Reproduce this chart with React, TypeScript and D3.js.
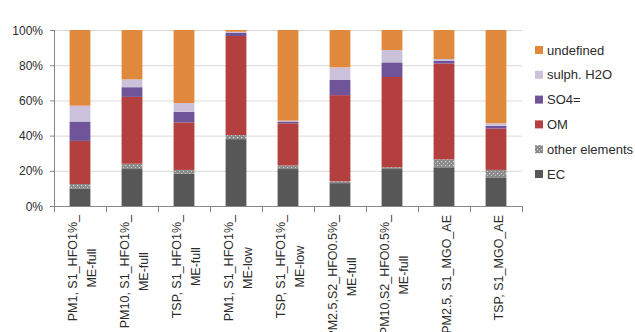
import React, { useEffect, useRef } from "react";
import * as d3 from "d3";

const categories: string[][] = [
  ["PM1, S1_HFO1%_", "ME-full"],
  ["PM10, S1_HFO1%_", "ME-full"],
  ["TSP, S1_HFO1%_", "ME-full"],
  ["PM1, S1_HFO1%_", "ME-low"],
  ["TSP, S1_HFO1%_", "ME-low"],
  ["PM2.5,S2_HFO0.5%_", "ME-full"],
  ["PM10,S2_HFO0.5%_", "ME-full"],
  ["PM2.5, S1_MGO_AE"],
  ["TSP, S1_MGO_AE"],
];

const seriesNames = ["EC", "other elements", "OM", "SO4=", "sulph. H2O", "undefined"];
const EC = [10, 21, 18.5, 38, 21, 13, 21, 22, 16.3];
const otherElements = [2.5, 3, 2, 2.3, 2, 1, 1, 4.5, 4.2];
const OM = [24.5, 38, 27, 56.3, 24, 49, 51.3, 54.5, 23.5];
const SO4 = [11, 5.5, 6, 1.9, 1, 8.6, 8.3, 1.6, 1.6];
const sulphH2O = [9, 4.5, 5, 0.5, 0.5, 7.2, 7, 0.9, 1.4];
const undefinedPart = [43, 28, 41.5, 1, 51.5, 21.2, 11.4, 16.5, 53];
const yTicks = [0, 20, 40, 60, 80, 100];

const colors = ["#575757", "url(#dots)", "#B3403E", "#6F549A", "#CCC1DA", "#E0893C"];

export default function App() {
  const ref = useRef<SVGSVGElement | null>(null);

  useEffect(() => {
    const svg = d3.select(ref.current);
    svg.selectAll("*").remove();

    const defs = svg.append("defs");
    const pat = defs
      .append("pattern")
      .attr("id", "dots")
      .attr("width", 4)
      .attr("height", 4)
      .attr("patternUnits", "userSpaceOnUse");
    pat.append("rect").attr("width", 4).attr("height", 4).attr("fill", "#8a8a8a");
    pat.append("rect").attr("x", 1).attr("y", 1).attr("width", 1.2).attr("height", 1.2).attr("fill", "#dcdcdc");
    pat.append("rect").attr("x", 3).attr("y", 3).attr("width", 1.2).attr("height", 1.2).attr("fill", "#cfcfcf");

    const left = 54, right = 522, top = 30, bottom = 206;
    const x = d3
      .scaleBand<number>()
      .domain(d3.range(categories.length))
      .range([left, right])
      .paddingInner(0.6)
      .paddingOuter(0.3);
    const y = d3.scaleLinear().domain([0, 100]).range([bottom, top]);

    svg
      .append("g")
      .selectAll("line")
      .data(yTicks.filter((t) => t > 0))
      .join("line")
      .attr("x1", left)
      .attr("x2", right)
      .attr("y1", (d) => y(d) + 0.5)
      .attr("y2", (d) => y(d) + 0.5)
      .attr("stroke", "#d9d9d9")
      .attr("stroke-width", 1);

    const table = categories.map((_, i) => ({
      EC: EC[i],
      "other elements": otherElements[i],
      OM: OM[i],
      "SO4=": SO4[i],
      "sulph. H2O": sulphH2O[i],
      undefined: undefinedPart[i],
    }));
    const stacked = d3.stack<any>().keys(seriesNames)(table);

    const g = svg.append("g");
    stacked.forEach((s, si) => {
      g.append("g")
        .attr("fill", colors[si])
        .selectAll("rect")
        .data(s)
        .join("rect")
        .attr("x", (_, i) => x(i)!)
        .attr("width", x.bandwidth())
        .attr("y", (d) => y(Math.min(100, d[1])))
        .attr("height", (d) => Math.max(0, y(d[0]) - y(Math.min(100, d[1]))));
    });

    const axisColor = "#868686";
    svg
      .append("line")
      .attr("x1", left + 0.5)
      .attr("x2", left + 0.5)
      .attr("y1", top)
      .attr("y2", bottom)
      .attr("stroke", axisColor);
    svg
      .append("g")
      .selectAll("line")
      .data(yTicks)
      .join("line")
      .attr("x1", left - 4)
      .attr("x2", left)
      .attr("y1", (d) => y(d) + 0.5)
      .attr("y2", (d) => y(d) + 0.5)
      .attr("stroke", axisColor);
    svg
      .append("line")
      .attr("x1", left)
      .attr("x2", right)
      .attr("y1", bottom + 0.5)
      .attr("y2", bottom + 0.5)
      .attr("stroke", axisColor);
    const step = x.step();
    svg
      .append("g")
      .selectAll("line")
      .data(d3.range(categories.length + 1))
      .join("line")
      .attr("x1", (d) => left + d * step + 0.5)
      .attr("x2", (d) => left + d * step + 0.5)
      .attr("y1", bottom)
      .attr("y2", bottom + 6)
      .attr("stroke", axisColor);

    svg
      .append("g")
      .selectAll("text")
      .data(yTicks)
      .join("text")
      .attr("x", 43)
      .attr("y", (d) => y(d) + 4.5)
      .attr("text-anchor", "end")
      .attr("font-family", "Liberation Sans, Arial, sans-serif")
      .attr("font-size", 12)
      .attr("fill", "#2b2b2b")
      .text((d) => d + "%");

    const labelTop = 215;
    const lineGap = 19;
    categories.forEach((lines, i) => {
      const cx = x(i)! + x.bandwidth() / 2;
      const lg = svg.append("g");
      const texts = lines.map((ln) =>
        lg
          .append("text")
          .attr("font-family", "Liberation Sans, Arial, sans-serif")
          .attr("font-size", 12.5)
          .attr("fill", "#2b2b2b")
          .attr("text-anchor", "middle")
          .text(ln)
      );
      const maxLen = Math.max(...texts.map((t) => (t.node() as SVGTextElement).getComputedTextLength()));
      const cy = labelTop + maxLen / 2;
      const n = lines.length;
      texts.forEach((t, li) => {
        const baseX = cx + 6.5 + (li - (n - 1) / 2) * lineGap;
        t.attr("transform", `translate(${baseX},${cy}) rotate(-90)`);
      });
    });

    const legendOrder = [...seriesNames].reverse();
    const legendColors = [...colors].reverse();
    const lg = svg.append("g");
    legendOrder.forEach((name, i) => {
      const ly = 50 + i * 24.8;
      lg.append("rect")
        .attr("x", 535)
        .attr("y", ly - 4)
        .attr("width", 8)
        .attr("height", 8)
        .attr("fill", legendColors[i]);
      lg.append("text")
        .attr("x", 547)
        .attr("y", ly + 4.5)
        .attr("font-family", "Liberation Sans, Arial, sans-serif")
        .attr("font-size", 13)
        .attr("fill", "#2b2b2b")
        .text(name);
    });
  }, []);

  return (
    <div style={{ position: "absolute", left: 0, top: 0 }}>
      <svg ref={ref} width={635} height={332} style={{ display: "block", background: "#fff" }} />
    </div>
  );
}
